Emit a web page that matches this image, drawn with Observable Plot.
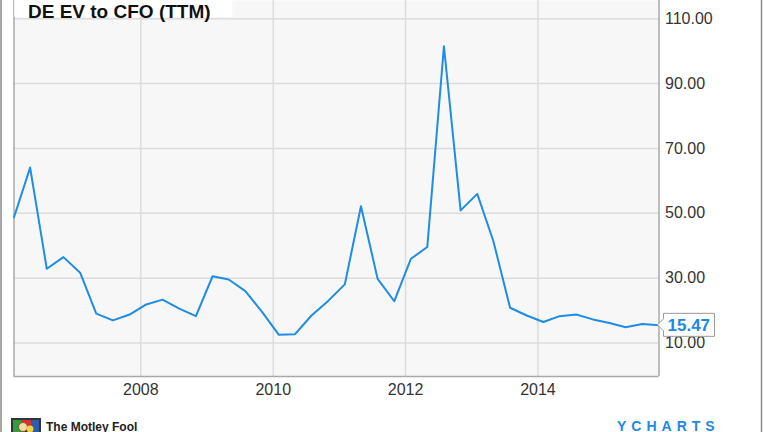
<!DOCTYPE html>
<html>
<head>
<meta charset="utf-8">
<script src="https://cdn.jsdelivr.net/npm/d3@7"></script>
<script src="https://cdn.jsdelivr.net/npm/@observablehq/plot@0.6"></script>
<style>
  html, body { margin: 0; padding: 0; background: #fff; overflow: hidden; }
  #chart { width: 764px; height: 432px; position: relative; }
</style>
</head>
<body>
<div id="chart"></div>
<script>
// ---- Data ----
const titleText = "DE EV to CFO (TTM)";
const dates = [
  "2006-01-31","2006-04-30","2006-07-31","2006-10-31",
  "2007-01-31","2007-04-30","2007-07-31","2007-10-31",
  "2008-01-31","2008-04-30","2008-07-31","2008-10-31",
  "2009-01-31","2009-04-30","2009-07-31","2009-10-31",
  "2010-01-31","2010-04-30","2010-07-31","2010-10-31",
  "2011-01-31","2011-04-30","2011-07-31","2011-10-31",
  "2012-01-31","2012-04-30","2012-07-31","2012-10-31",
  "2013-01-31","2013-04-30","2013-07-31","2013-10-31",
  "2014-01-31","2014-04-30","2014-07-31","2014-10-31",
  "2015-01-31","2015-04-30","2015-07-31","2015-10-31"
];
const values = [
  48.8, 64.1, 32.9, 36.5,
  31.7, 19.1, 17.0, 18.8,
  21.9, 23.4, 20.6, 18.3,
  30.6, 29.6, 26.0, 19.6,
  12.6, 12.7, 18.5, 23.0,
  28.1, 52.2, 29.8, 22.9,
  36.0, 39.6, 101.5, 50.9,
  56.0, 41.4, 20.9, 18.5,
  16.5, 18.3, 18.8, 17.3,
  16.2, 14.9, 15.9, 15.47
];
const yTicks = [10, 30, 50, 70, 90, 110];
const xTickDates = ["2008-01-01", "2010-01-01", "2012-01-01", "2014-01-01"];
const lastLabel = "15.47";
const footerLeft = "The Motley Fool";
const footerRight = "YCHARTS";

// ---- Build ----
const data = dates.map((d, i) => ({date: new Date(d), value: values[i]}));
const xTicks = xTickDates.map(d => new Date(d));
const first = data[0].date, last = data[data.length - 1].date;
const yDomain = [-0.3, 115.6];
const FONT = "'Liberation Sans', Arial, sans-serif";

const chart = Plot.plot({
  width: 764,
  height: 432,
  marginLeft: 13.5,
  marginRight: 105.5,
  marginTop: 0,
  marginBottom: 56,
  style: {fontFamily: FONT, fontSize: "16px", color: "#333", background: "#fff", overflow: "hidden"},
  x: {type: "utc", domain: [first, last], ticks: xTicks, tickFormat: d => String(d.getUTCFullYear()), tickSize: 0, tickPadding: 7, label: null},
  y: {domain: yDomain, axis: "right", ticks: yTicks, tickFormat: d3.format(".2f"), tickSize: 0, tickPadding: 6, label: null},
  marks: [
    Plot.frame({fill: "#f7f7f7", stroke: null}),
    Plot.ruleY(yTicks, {stroke: "#dcdcdc", strokeWidth: 1.5}),
    Plot.ruleX(xTicks, {stroke: "#dcdcdc", strokeWidth: 1.5}),
    Plot.ruleX([first, last], {stroke: "#a8a8a8", strokeWidth: 1.5}),
    Plot.ruleY([yDomain[0]], {stroke: "#a8a8a8", strokeWidth: 1.5}),
    Plot.line(data, {x: "date", y: "value", stroke: "#1f8ce6", strokeWidth: 2})
  ]
});
document.getElementById("chart").appendChild(chart);

// ---- Decorations positioned through Plot's scales ----
const svg = d3.select(chart);
const xs = chart.scale("x"), ys = chart.scale("y");
const x0 = xs.apply(first);
const deco = svg.append("g").attr("text-anchor", "start").attr("font-family", FONT);

// outer frame lines
deco.append("line").attr("x1", 1).attr("x2", 1).attr("y1", 0).attr("y2", 432).attr("stroke", "#8a8a8a").attr("stroke-width", 1.5);
deco.append("line").attr("x1", 761.5).attr("x2", 761.5).attr("y1", 0).attr("y2", 432).attr("stroke", "#8a8a8a").attr("stroke-width", 1.5);

// title box
deco.append("rect").attr("x", x0 + 0.75).attr("y", 0).attr("width", 218).attr("height", 17).attr("fill", "#fff");
deco.append("text").attr("x", 28).attr("y", 17.5)
  .attr("font-size", 19).attr("font-weight", "bold")
  .attr("fill", "#111").text(titleText);

// last value marker
const tx = xs.apply(last) - 1, ty = ys.apply(values[values.length - 1]);
const bw = 51, bh = 11.5;
deco.append("path")
  .attr("d", `M${tx},${ty} L${tx + 6},${ty - 6} L${tx + 6},${ty - bh} L${tx + 6 + bw},${ty - bh} L${tx + 6 + bw},${ty + bh} L${tx + 6},${ty + bh} L${tx + 6},${ty + 6} Z`)
  .attr("fill", "#fff").attr("stroke", "#9a9a9a").attr("stroke-width", 1);
deco.append("text").attr("x", tx + 10).attr("y", ty + 6)
  .attr("font-size", 17).attr("font-weight", "bold")
  .attr("fill", "#1e88e5").text(lastLabel);

// footer
const logo = deco.append("g").attr("transform", "translate(11,418)");
logo.append("rect").attr("x", 0).attr("y", 0).attr("width", 30).attr("height", 14).attr("fill", "#333");
logo.append("rect").attr("x", 2).attr("y", 2).attr("width", 8).attr("height", 12).attr("fill", "#2e9e3e");
logo.append("rect").attr("x", 10).attr("y", 2).attr("width", 10).attr("height", 6).attr("fill", "#d9302c");
logo.append("rect").attr("x", 20).attr("y", 2).attr("width", 8).attr("height", 12).attr("fill", "#2a5db0");
logo.append("circle").attr("cx", 12).attr("cy", 9).attr("r", 4.5).attr("fill", "#f1d9a8").attr("stroke", "#8a5a2b");
logo.append("circle").attr("cx", 19).attr("cy", 11).attr("r", 3.5).attr("fill", "#f3d23a");
deco.append("text").attr("x", 46).attr("y", 430.5)
  .attr("font-size", 12).attr("font-weight", "bold")
  .attr("fill", "#222").text(footerLeft);
deco.append("text").attr("x", 617).attr("y", 430.5)
  .attr("font-size", 14).attr("font-weight", "bold")
  .attr("letter-spacing", 5).attr("fill", "#1e88e5").text(footerRight);
</script>
</body>
</html>
